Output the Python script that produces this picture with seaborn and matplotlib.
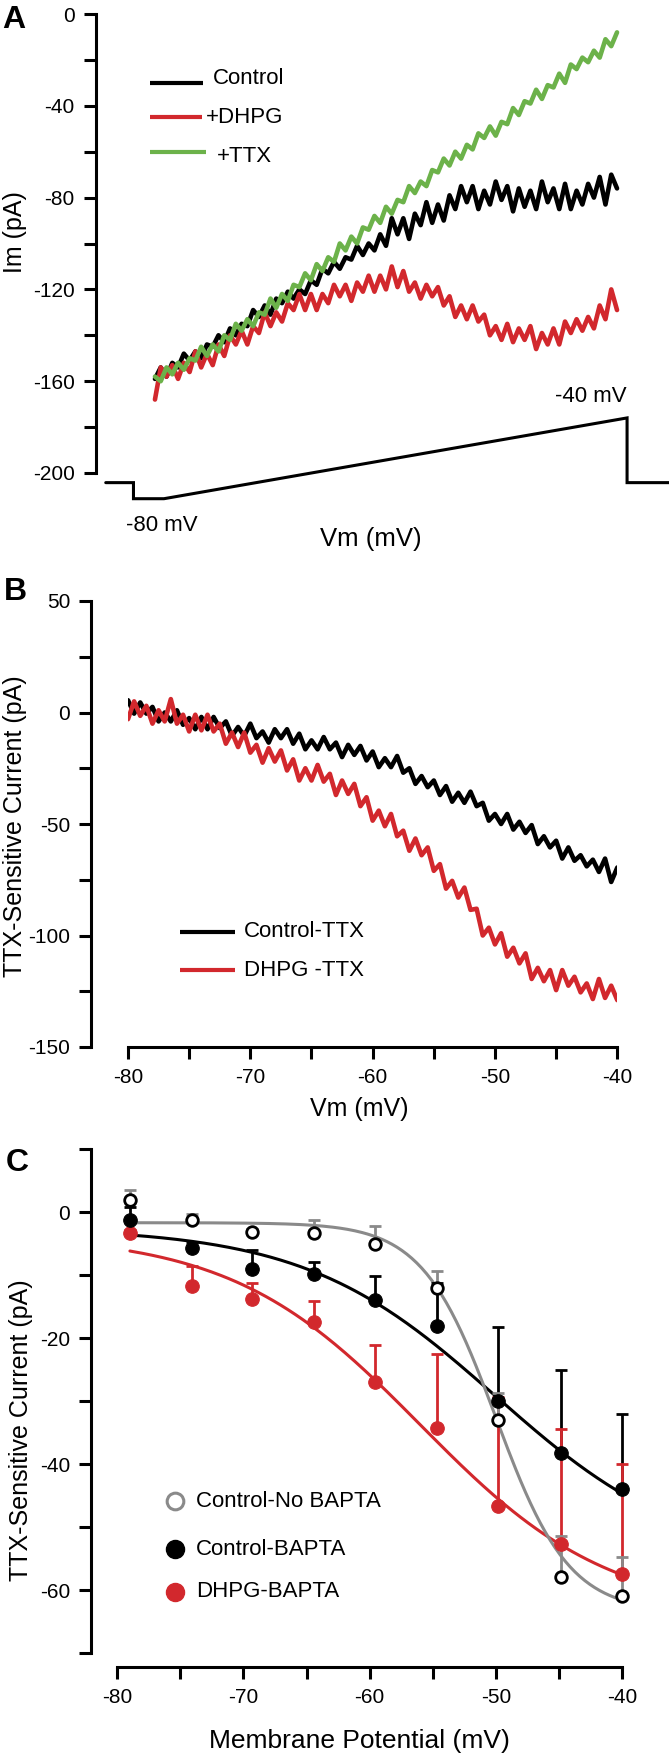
import numpy as np
import pandas as pd
import matplotlib
matplotlib.use("Agg")
import matplotlib.pyplot as plt
import seaborn as sns

# ---------------- DATA ----------------
trace_vm = np.linspace(-80, -40, 81)  # sampling grid of the ramp traces (mV)

# Panel A: whole-cell currents during ramp (pA)
a_control = [-159, -154, -158, -152, -154, -148, -151, -147, -150, -144,
             -145, -140, -143, -137, -140, -135, -136, -129, -132, -127,
             -131, -124, -126, -121, -124, -120, -122, -116, -118, -111,
             -113, -108, -111, -106, -107, -101, -105, -100, -103, -96,
             -101, -89, -96, -89, -98, -87, -92, -82, -91, -83,
             -90, -79, -85, -75, -82, -75, -85, -77, -83, -73,
             -81, -75, -86, -76, -84, -77, -85, -73, -82, -76,
             -85, -74, -85, -77, -83, -74, -80, -71, -83, -70,
             -76]
a_dhpg = [-168, -154, -158, -153, -159, -152, -156, -147, -154, -148,
          -153, -144, -149, -140, -144, -138, -144, -136, -139, -130,
          -136, -130, -134, -126, -129, -122, -129, -122, -129, -122,
          -126, -118, -123, -118, -125, -117, -121, -114, -121, -114,
          -120, -110, -119, -112, -121, -117, -124, -118, -123, -119,
          -127, -123, -132, -127, -133, -127, -134, -131, -140, -136,
          -142, -135, -143, -137, -142, -136, -146, -139, -144, -137,
          -144, -134, -139, -133, -138, -132, -137, -127, -133, -120,
          -129]
a_ttx = [-158, -160, -154, -157, -152, -155, -150, -151, -145, -149,
         -144, -147, -140, -142, -135, -138, -133, -136, -130, -131,
         -124, -128, -122, -125, -118, -119, -113, -116, -109, -112,
         -106, -108, -100, -103, -97, -100, -93, -94, -88, -91,
         -84, -87, -81, -82, -75, -78, -73, -75, -68, -69,
         -63, -66, -60, -63, -57, -59, -52, -54, -49, -53,
         -47, -48, -41, -44, -38, -39, -33, -37, -31, -32,
         -26, -30, -22, -24, -19, -21, -16, -19, -11, -14,
         -8]
a_labels = ["Control", "+DHPG", "+TTX"]

# voltage protocol sketch drawn under panel A (panel-A data units)
protocol_x = [-84.26, -81.86, -81.86, -79.22, -39.13, -39.13, -35.5]
protocol_y = [-204.2, -204.2, -211.2, -211.2, -176.0, -204.2, -204.2]

# Panel B: TTX-sensitive currents (pA)
b_control = [5.5, -0.5, 4.5, -0.5, 2.5, -4, 0, -4, 1, -5.5,
             -2.5, -7.5, -2, -7.5, -2, -7, -4, -10.5, -6.5, -10.5,
             -5, -11.5, -8.5, -13.5, -7.5, -11.5, -7.5, -14, -9.5, -16.5,
             -12.5, -16.5, -11, -16.5, -13.5, -20, -14.5, -19, -15, -21.5,
             -17.5, -24.5, -20.5, -24.5, -19.5, -27, -25, -32, -28.5, -33.5,
             -30.5, -37, -33, -40, -36, -40.5, -35.5, -42, -40.5, -48.5,
             -45.5, -50, -45.5, -52.5, -49, -54, -50.5, -59, -55.5, -60.5,
             -57.5, -65.5, -60.5, -66.5, -64, -69, -66, -71.5, -65.5, -76,
             -69.5]
b_dhpg = [-3, 5, -1.5, 3, -5, 1, -4, 6, -5, -1,
          -8.5, -1, -8, -1, -8.5, -5, -14, -9, -15.5, -9,
          -18, -14.5, -22.5, -16, -22, -17, -26, -21, -30.5, -25,
          -30.5, -23.5, -31, -27.5, -37, -30.5, -36.5, -32, -42, -38,
          -48.5, -44, -51, -45.5, -55.5, -53, -62, -56.5, -64, -60.5,
          -71, -68, -79, -75.5, -83, -78.5, -88.5, -88, -100, -96.5,
          -104, -99, -109.5, -105.5, -112.5, -108, -119.5, -114.5, -120.5, -115.5,
          -124.5, -115.5, -122.5, -118.5, -125.5, -121.5, -128.5, -119.5, -128, -122.5,
          -129]
b_labels = ["Control-TTX", "DHPG -TTX"]

# Panel C: mean TTX-sensitive current with upper error (pA)
c_vm = [-79.0, -74.1, -69.3, -64.4, -59.6, -54.7, -49.8, -44.8, -40.0]
c_nobapta_mean = [1.9, -1.2, -3.2, -3.3, -5.0, -12.1, -33.0, -57.9, -61.0]
c_nobapta_top = [3.5, -0.3, -2.7, -1.3, -2.3, -9.3, -28.8, -51.5, -54.8]
c_bapta_mean = [-1.3, -5.7, -9.0, -9.9, -14.0, -18.1, -30.0, -38.3, -44.0]
c_bapta_top = [0.8, -4.7, -6.1, -7.9, -10.1, -11.3, -18.3, -25.1, -32.1]
c_dhpg_mean = [-3.3, -11.7, -13.8, -17.5, -27.0, -34.3, -46.7, -52.7, -57.5]
c_dhpg_top = [-2.8, -8.5, -11.2, -14.1, -21.1, -22.5, -29.3, -34.5, -40.0]
c_labels = ["Control-No BAPTA", "Control-BAPTA", "DHPG-BAPTA"]
# Boltzmann fit parameters: top, bottom, V half, slope
fit_nobapta = [-1.7, -63.5, -50.0, 2.9]
fit_bapta = [-2.5, -56.0, -50.0, 7.6]
fit_dhpg = [-3.5, -64.0, -56.0, 7.5]

# ---------------- STYLE ----------------
sns.set_theme(style="ticks", rc={"axes.edgecolor": "black", "xtick.color": "black",
                                 "ytick.color": "black", "text.color": "black",
                                 "axes.labelcolor": "black"})
plt.rcParams['font.family'] = ['Liberation Sans', 'DejaVu Sans']
plt.rcParams['axes.unicode_minus'] = False

RED = "#d2282d"
GREEN = "#6cb24a"
GRAY = "#8a8a8a"
W, H, DPI = 669, 1759, 100
TICK_FS = 15
LEG_FS = 16
LAB_FS = 18
TRACE_LW = 3.3

fig = plt.figure(figsize=(W / DPI, H / DPI), dpi=DPI)


def axes_px(left, top, right, bottom):
    return fig.add_axes([left / W, 1 - bottom / H, (right - left) / W, (bottom - top) / H])


def ftxt(xpx, ypx, s, **kw):
    fig.text(xpx / W, 1 - ypx / H, s, **kw)


def style_ticks(ax):
    for sp in ax.spines.values():
        sp.set_linewidth(2.2)
    ax.tick_params(which="both", direction="out", length=8.5, width=2.2,
                   labelsize=TICK_FS, pad=6.5)


# ---------------- PANEL A ----------------
axA = axes_px(95.7, 14, 669, 473)
dfA = pd.DataFrame({"Vm": trace_vm, a_labels[0]: a_control,
                    a_labels[1]: a_dhpg, a_labels[2]: a_ttx})
for lab, col in zip(a_labels, ["black", RED, GREEN]):
    sns.lineplot(data=dfA, x="Vm", y=lab, color=col, lw=TRACE_LW, ax=axA,
                 estimator=None, sort=False, legend=False)
axA.plot(protocol_x, protocol_y, color="black", lw=2.2, clip_on=False,
         solid_joinstyle="miter")
axA.set_xlim(-85.13, -35.5)
axA.set_ylim(-200, 0)
for s in ["top", "right", "bottom"]:
    axA.spines[s].set_visible(False)
axA.set_xticks([])
axA.set_yticks(np.arange(-200, 1, 40))
axA.set_yticks(np.arange(-180, 0, 40), minor=True)
style_ticks(axA)
axA.set_xlabel("")
axA.set_ylabel("")
# legend A
leg_y_line = [-30.0, -44.9, -60.1]
leg_y_text = [-28.3, -44.9, -62.3]
leg_x_text = [-75.0, -75.6, -74.6]
leg_x_end = [-75.85, -75.95, -75.6]
for lab, col, yl, yt, xt, xe in zip(a_labels, ["black", RED, GREEN], leg_y_line,
                                    leg_y_text, leg_x_text, leg_x_end):
    axA.plot([-80.43, xe], [yl, yl], color=col, lw=3.0, solid_capstyle="butt")
    axA.text(xt, yt, lab, fontsize=LEG_FS, va="center", ha="left")
axA.text(-42.25, -166.7, "-40 mV", fontsize=LEG_FS, ha="center", va="center")
axA.text(-79.4, -222.7, "-80 mV", fontsize=LEG_FS, ha="center", va="center",
         clip_on=False)
ftxt(371, 539, "Vm (mV)", fontsize=LAB_FS + 0.5, ha="center", va="center")
ftxt(15, 232, "Im (pA)", fontsize=LAB_FS, ha="center", va="center", rotation=90)
ftxt(14, 20, "A", fontsize=23, fontweight="bold", ha="center", va="center")

# ---------------- PANEL B ----------------
axB = axes_px(128, 601, 617.3, 1047)
dfB = pd.DataFrame({"Vm": trace_vm, b_labels[0]: b_control, b_labels[1]: b_dhpg})
for lab, col in zip(b_labels, ["black", RED]):
    sns.lineplot(data=dfB, x="Vm", y=lab, color=col, lw=TRACE_LW, ax=axB,
                 estimator=None, sort=False, legend=False)
axB.set_xlim(-80, -40)
axB.set_ylim(-150, 50)
for s in ["top", "right"]:
    axB.spines[s].set_visible(False)
axB.spines["left"].set_position(("outward", 26.6))
axB.set_xticks(np.arange(-80, -39, 10))
axB.set_xticks(np.arange(-75, -40, 10), minor=True)
axB.set_yticks(np.arange(-150, 51, 50))
axB.set_yticks(np.arange(-125, 50, 50), minor=True)
style_ticks(axB)
axB.set_xlabel("")
axB.set_ylabel("")
for lab, col, yy in zip(b_labels, ["black", RED], [-98.3, -115.5]):
    axB.plot([-75.75, -71.25], [yy, yy], color=col, lw=3.0, solid_capstyle="butt")
    axB.text(-70.5, yy, lab, fontsize=LEG_FS, va="center", ha="left")
ftxt(359, 1109, "Vm (mV)", fontsize=LAB_FS, ha="center", va="center")
ftxt(15, 826, "TTX-Sensitive Current (pA)", fontsize=LAB_FS, ha="center",
     va="center", rotation=90)
ftxt(15, 592, "B", fontsize=23, fontweight="bold", ha="center", va="center")

# ---------------- PANEL C ----------------
axC = axes_px(117.3, 1149, 622, 1653)
vfit = np.linspace(-79, -40, 200)


def boltz(v, p):
    top, bot, vh, k = p
    return bot + (top - bot) / (1 + np.exp((v - vh) / k))


dfC = pd.DataFrame({"Vm": c_vm, "nob": c_nobapta_mean, "bap": c_bapta_mean,
                    "dhp": c_dhpg_mean})
for p, col in zip([fit_bapta, fit_dhpg, fit_nobapta], ["black", RED, GRAY]):
    axC.plot(vfit, boltz(vfit, p), color=col, lw=2.2, zorder=2)
for mean, top, col in zip([c_bapta_mean, c_dhpg_mean, c_nobapta_mean],
                          [c_bapta_top, c_dhpg_top, c_nobapta_top],
                          ["black", RED, GRAY]):
    mean = np.array(mean)
    up = np.array(top) - mean
    axC.errorbar(c_vm, mean, yerr=[np.zeros_like(up), up], fmt="none",
                 ecolor=col, elinewidth=2.0, capsize=4.2, capthick=2.0,
                 zorder=3, clip_on=False)
sns.scatterplot(data=dfC, x="Vm", y="dhp", color=RED, edgecolor=RED, s=95,
                linewidth=0.8, ax=axC, zorder=4, legend=False, clip_on=False)
sns.scatterplot(data=dfC, x="Vm", y="bap", color="black", edgecolor="black", s=95,
                linewidth=0.8, ax=axC, zorder=5, legend=False, clip_on=False)
sns.scatterplot(data=dfC, x="Vm", y="nob", color="white", edgecolor="black", s=70,
                linewidth=2.0, ax=axC, zorder=6, legend=False, clip_on=False)
axC.set_xlim(-80, -40)
axC.set_ylim(-70, 10)
for s in ["top", "right"]:
    axC.spines[s].set_visible(False)
axC.spines["left"].set_position(("outward", 19))
axC.spines["bottom"].set_position(("outward", 10))
axC.set_xticks(np.arange(-80, -39, 10))
axC.set_xticks(np.arange(-75, -40, 10), minor=True)
axC.set_yticks(np.arange(-60, 1, 20))
axC.set_yticks(np.arange(-70, 11, 20), minor=True)
style_ticks(axC)
axC.set_xlabel("")
axC.set_ylabel("")
axC.plot([-75.4], [-45.9], marker="o", ms=12, mfc="white", mec=GRAY, mew=2.2,
         ls="none")
axC.plot([-75.4], [-53.5], marker="o", ms=13, mfc="black", mec="black", ls="none")
axC.plot([-75.4], [-60.3], marker="o", ms=13, mfc=RED, mec=RED, ls="none")
for lab, yy in zip(c_labels, [-45.9, -53.5, -60.3]):
    axC.text(-73.75, yy, lab, fontsize=LEG_FS, va="center", ha="left")
ftxt(359, 1741, "Membrane Potential (mV)", fontsize=LAB_FS + 1, ha="center",
     va="center")
ftxt(21, 1430, "TTX-Sensitive Current (pA)", fontsize=LAB_FS, ha="center",
     va="center", rotation=90)
ftxt(17, 1163, "C", fontsize=23, fontweight="bold", ha="center", va="center")

fig.savefig("out.png", dpi=DPI)
